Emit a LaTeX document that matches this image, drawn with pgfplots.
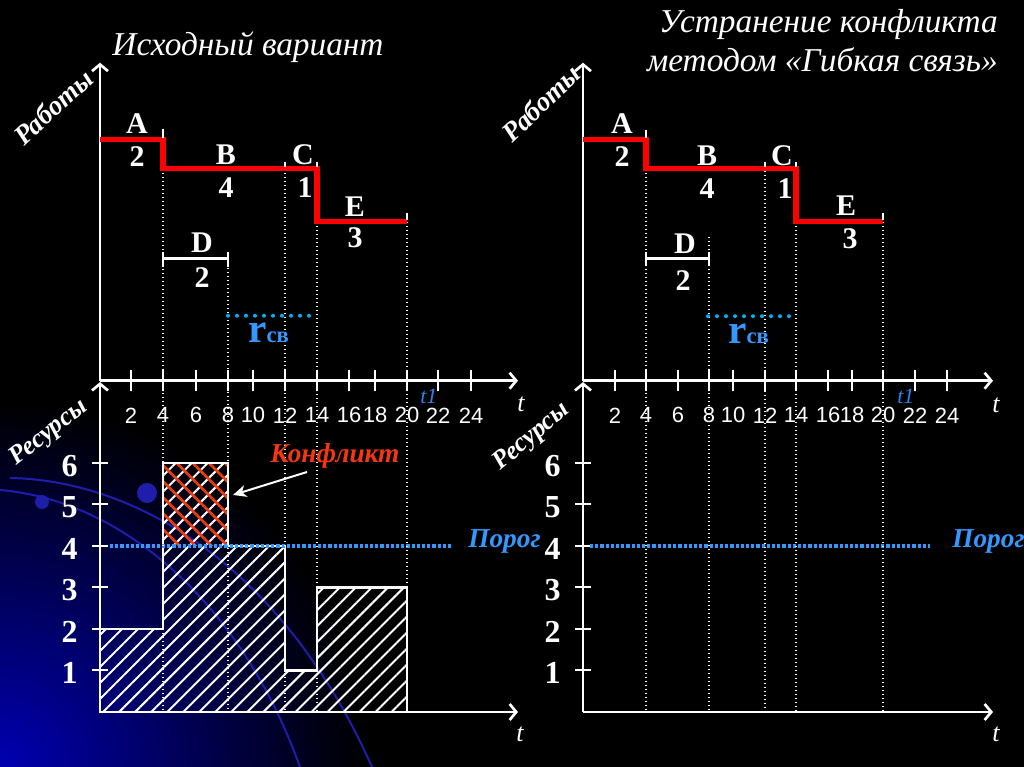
\documentclass[border=0pt]{standalone}
\usepackage{pgfplots}
\pgfplotsset{compat=1.18}
\usepackage{fontspec}
\setmainfont{Liberation Serif}
\newfontfamily\arialf{Liberation Sans}
\usetikzlibrary{arrows.meta,patterns.meta}
\definecolor{lblue}{RGB}{51,153,255}
\definecolor{tblue}{RGB}{40,130,235}
\definecolor{cyandot}{RGB}{0,176,240}
\definecolor{konf}{RGB}{245,55,15}
\definecolor{hred}{RGB}{240,60,20}
\definecolor{navyA}{RGB}{0,0,180}
\definecolor{arcblue}{RGB}{30,30,170}
\newcommand{\fs}[1]{\fontsize{#1}{#1}\selectfont}
\tikzset{
  lab/.style={text=white, font=\bfseries\fs{22.5}, inner sep=0pt, anchor=center},
  dots/.style={white, line width=1.5pt, dash pattern=on 1.1pt off 1.9pt},
  rdots/.style={cyandot, line width=3pt, line cap=round, dash pattern=on 0pt off 6.75pt},
  thr/.style={lblue, line width=2.4pt, dash pattern=on 2.4pt off 1.5pt},
}
\pgfplotsset{
  panel/.style={clip=false, axis lines=left,
    axis line style={white, line width=2pt, -{Straight Barb[length=5pt,width=12pt]}},
    x=0.75pt, xmin=0, anchor=south west,
    major tick style={white, line width=1.5pt},
    tick align=center},
  toppanel/.style={panel, y=0.75pt, ymin=0, ymax=318, ytick=\empty,
    major tick length=16pt,
    xticklabel style={font=\arialf\fs{16.5}, text=white, anchor=center, yshift=-18pt}},
  botpanel/.style={panel, y=31.125pt, ymin=0, ymax=7.95, xtick=\empty, ytick={1,2,3,4,5,6},
    yticklabels={1,2,3,4,5,6},
    major tick length=12pt,
    yticklabel style={font=\bfseries\fs{24}, text=white, anchor=center, xshift=-16.75pt, yshift=-2pt}},
}
\begin{document}
\begin{tikzpicture}
\useasboundingbox (0,0) rectangle (768pt,575.25pt);
\fill[black] (0,0) rectangle (768pt,575.25pt);
\clip (0,0) rectangle (768pt,575.25pt);
\begin{scope}[x=0.75pt,y=0.75pt]
 \foreach \r in {360,350,...,10} {
   \pgfmathsetmacro\p{100*(1-\r/370)}
   \fill[navyA!\p!black] (0,0) circle (\r);
 }
 \draw[arcblue, line width=1.5pt] (10,289) .. controls (130,287) and (280,207) .. (372,0);
 \draw[arcblue, line width=1.5pt] (0,277) .. controls (120,267) and (240,167) .. (300,0);
 \fill[arcblue] (147,274) circle (10);
 \fill[arcblue] (42,265) circle (7);
\end{scope}

% ---------- bottom left: resources ----------
\begin{axis}[botpanel, xmax=418, at={(75pt,41.25pt)}]
 \addplot[draw=none, pattern={Lines[angle=45,distance=8.5pt,line width=1.5pt]}, pattern color=white]
   coordinates {(0,0) (0,2) (63,2) (63,6) (128,6) (128,4) (185,4) (185,1) (217,1) (217,3) (307,3) (307,0)} -- cycle;
 \addplot[draw=none, pattern={Lines[angle=-45,distance=8.5pt,line width=2pt]}, pattern color=hred]
   coordinates {(63,4) (63,6) (128,6) (128,4)} -- cycle;
 \addplot[white, line width=2pt]
   coordinates {(0,0) (0,2) (63,2) (63,6) (128,6) (128,4) (185,4) (185,1) (217,1) (217,3) (307,3) (307,0)} -- cycle;
 \addplot[thr] coordinates {(10,4) (353,4)};
\end{axis}

% ---------- bottom right: resources ----------
\begin{axis}[botpanel, xmax=410, at={(437.25pt,41.25pt)}]
 \addplot[thr] coordinates {(7,4) (347,4)};
\end{axis}

% ---------- top left: works ----------
\begin{axis}[toppanel, xmax=418, at={(75pt,289.7pt)},
  xtick={31,63,96,128,153,185,217,249,275,307,338,371},
  xticklabels={2,4,6,8,10,12,14,16,18,20,22,24}]
 \addplot[dots] coordinates {(63,212) (63,-331)};
 \addplot[dots] coordinates {(128,121) (128,-331)};
 \addplot[dots] coordinates {(185,212) (185,-331)};
 \addplot[dots] coordinates {(217,159) (217,-331)};
 \addplot[dots] coordinates {(307,159) (307,-331)};
 \addplot[red, line width=4pt] coordinates {(0,241) (63,241) (63,212) (217,212) (217,159) (307,159)};
 \addplot[white, line width=1.5pt] coordinates {(63,243) (63,252)};
 \addplot[white, line width=1.5pt] coordinates {(185,214) (185,219)};
 \addplot[white, line width=1.5pt] coordinates {(217,214) (217,219)};
 \addplot[white, line width=1.5pt] coordinates {(307,161) (307,168)};
 \addplot[white, line width=2pt] coordinates {(63,122) (128,122)};
 \addplot[white, line width=1.5pt] coordinates {(63,114) (63,129)};
 \addplot[white, line width=1.5pt] coordinates {(128,114) (128,129)};
 \addplot[rdots] coordinates {(128,65) (217,65)};
 \node[lab] at (axis cs:37,257) {A};
 \node[lab] at (axis cs:37,224) {2};
 \node[lab] at (axis cs:126,226) {B};
 \node[lab] at (axis cs:126,193) {4};
 \node[lab] at (axis cs:203,226) {C};
 \node[lab] at (axis cs:205,193) {1};
 \node[lab] at (axis cs:255,174) {E};
 \node[lab] at (axis cs:255,143) {3};
 \node[lab] at (axis cs:102,138) {D};
 \node[lab] at (axis cs:102,103) {2};
 \node[anchor=base west, inner sep=0pt, text=lblue, font=\bfseries] at (axis cs:148,38) {\fs{31}r\fs{17}св};
 \node[anchor=base west, inner sep=0pt, text=tblue, font=\itshape\fs{16.5}] at (axis cs:320,-23) {t1};
 \node[anchor=base, inner sep=0pt, text=white, font=\itshape\fs{19.5}] at (axis cs:421,-31) {t};
\end{axis}

% ---------- top right: works ----------
\begin{axis}[toppanel, xmax=410, at={(437.25pt,289.7pt)},
  xtick={32,63,95,126,150,182,213,245,269,300,332,364},
  xticklabels={2,4,6,8,10,12,14,16,18,20,22,24}]
 \addplot[dots] coordinates {(63,212) (63,-331)};
 \addplot[dots] coordinates {(126,144) (126,-331)};
 \addplot[dots] coordinates {(182,218) (182,-331)};
 \addplot[dots] coordinates {(213,159) (213,-331)};
 \addplot[dots] coordinates {(300,159) (300,-331)};
 \addplot[red, line width=4pt] coordinates {(0,241) (63,241) (63,212) (213,212) (213,159) (300,159)};
 \addplot[white, line width=1.5pt] coordinates {(63,243) (63,251)};
 \addplot[white, line width=1.5pt] coordinates {(182,214) (182,219)};
 \addplot[white, line width=1.5pt] coordinates {(213,214) (213,219)};
 \addplot[white, line width=1.5pt] coordinates {(300,161) (300,168)};
 \addplot[white, line width=2pt] coordinates {(63,122) (126,122)};
 \addplot[white, line width=1.5pt] coordinates {(63,115) (63,129)};
 \addplot[white, line width=1.5pt] coordinates {(126,115) (126,129)};
 \addplot[rdots] coordinates {(125,64.5) (210,64.5)};
 \node[lab] at (axis cs:39,257.5) {A};
 \node[lab] at (axis cs:39,224) {2};
 \node[lab] at (axis cs:124,225.5) {B};
 \node[lab] at (axis cs:124,192.5) {4};
 \node[lab] at (axis cs:199,225.5) {C};
 \node[lab] at (axis cs:202,192.5) {1};
 \node[lab] at (axis cs:263,175.5) {E};
 \node[lab] at (axis cs:267,142.5) {3};
 \node[lab] at (axis cs:102,137.5) {D};
 \node[lab] at (axis cs:100,100.5) {2};
 \node[anchor=base west, inner sep=0pt, text=lblue, font=\bfseries] at (axis cs:145,37.5) {\fs{31}r\fs{17}св};
 \node[anchor=base west, inner sep=0pt, text=tblue, font=\itshape\fs{16.5}] at (axis cs:314,-23) {t1};
 \node[anchor=base, inner sep=0pt, text=white, font=\itshape\fs{19.5}] at (axis cs:413,-32) {t};
\end{axis}

% ---------- free texts ----------
\begin{scope}[x=0.75pt,y=0.75pt]
 \node[anchor=base, inner sep=0pt, text=white, font=\itshape\fs{25}] at (248,711) {Исходный вариант};
 \node[anchor=base east, inner sep=0pt, text=white, font=\itshape\fs{25}] at (998,734) {Устранение конфликта};
 \node[anchor=base east, inner sep=0pt, text=white, font=\itshape\fs{25}] at (998,695) {методом «Гибкая связь»};
 \node[rotate=43, inner sep=0pt, text=white, font=\bfseries\itshape\fs{20.5}] at (53,660) {Работы};
 \node[rotate=38, inner sep=0pt, text=white, font=\bfseries\itshape\fs{19.5}] at (49,334) {Ресурсы};
 \node[rotate=43.5, inner sep=0pt, text=white, font=\bfseries\itshape\fs{20.5}] at (541,664) {Работы};
 \node[rotate=40, inner sep=0pt, text=white, font=\bfseries\itshape\fs{19.5}] at (532,330) {Ресурсы};
 \node[anchor=base west, inner sep=0pt, text=lblue, font=\bfseries\itshape\fs{20.5}] at (468,219) {Порог};
 \node[anchor=base west, inner sep=0pt, text=lblue, font=\bfseries\itshape\fs{20.5}] at (952,219) {Порог};
 \node[anchor=base west, inner sep=0pt, text=konf, font=\bfseries\itshape\fs{20.5}] at (270,304) {Конфликт};
 \draw[white, line width=1.5pt, -{Stealth[length=10pt,width=9pt,inset=3pt]}] (307,295) -- (233,272);
 \node[anchor=base, inner sep=0pt, text=white, font=\itshape\fs{19.5}] at (520,25) {t};
 \node[anchor=base, inner sep=0pt, text=white, font=\itshape\fs{19.5}] at (996,25) {t};
\end{scope}
\end{tikzpicture}
\end{document}
